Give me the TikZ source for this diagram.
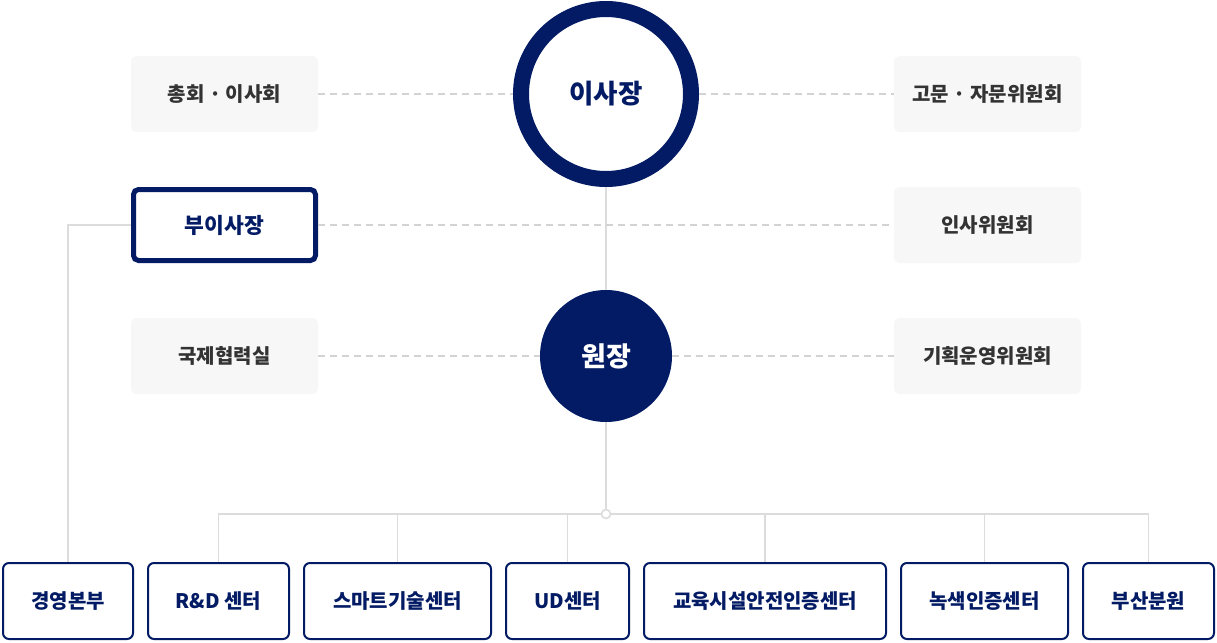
\documentclass[tikz,border=0pt]{standalone}
\usepackage{fontspec}
\setmainfont{Noto Sans CJK KR}
\definecolor{navy}{RGB}{3,27,100}
\definecolor{boxgrey}{HTML}{F7F7F7}
\definecolor{linegrey}{HTML}{DCDCDC}
\definecolor{txtgrey}{HTML}{333333}
\begin{document}
\begin{tikzpicture}[x=1pt,y=-1pt,
  greybox/.style={fill=boxgrey,rounded corners=5pt,minimum width=187pt,minimum height=76pt,inner sep=0pt,font=\fontsize{20}{22}\selectfont\bfseries,text=txtgrey},
  unitbox/.style={draw=navy,line width=2pt,rounded corners=6pt,fill=white,minimum height=76pt,inner sep=0pt,font=\fontsize{20}{22}\selectfont\bfseries,text=navy},
  conn/.style={draw=linegrey,line width=1.6pt},
  dashconn/.style={draw=linegrey!90!gray,line width=1.4pt,dash pattern=on 7pt off 5pt}]
\useasboundingbox (0,0) rectangle (1217,642);
% top nodes
\node[circle,draw=navy,line width=16pt,fill=white,minimum size=170pt,inner sep=0pt,font=\fontsize{26.5}{28}\selectfont\bfseries,text=navy] (chair) at (606,94) {이사장};
\node[circle,fill=navy,minimum size=132pt,inner sep=0pt,font=\fontsize{27}{29}\selectfont\bfseries,text=white] (dir) at (606,356) {원장};
\node[greybox] (gen) at (224.5,94) {총회 · 이사회};
\node[greybox] (adv) at (987.5,94) {고문 · 자문위원회};
\node[greybox] (insa) at (987.5,225) {인사위원회};
\node[greybox] (intl) at (224.5,356) {국제협력실};
\node[greybox] (plan) at (987.5,356) {기획운영위원회};
\node[draw=navy,line width=5pt,rounded corners=5pt,fill=white,minimum width=182pt,minimum height=71pt,inner sep=0pt,font=\fontsize{21.5}{23}\selectfont\bfseries,text=navy] (vp) at (224.5,225) {부이사장};
% bottom units
\node[unitbox,minimum width=130pt] (b1) at (68,601) {경영본부};
\node[unitbox,minimum width=141pt] (b2) at (218.5,601) {R\&D 센터};
\node[unitbox,minimum width=187pt] (b3) at (397.5,601) {스마트기술센터};
\node[unitbox,minimum width=123pt] (b4) at (567.5,601) {UD센터};
\node[unitbox,minimum width=242pt] (b5) at (765,601) {교육시설안전인증센터};
\node[unitbox,minimum width=167pt] (b6) at (984.5,601) {녹색인증센터};
\node[unitbox,minimum width=131pt] (b7) at (1148.5,601) {부산분원};
\node[circle,minimum size=9pt,inner sep=0pt] (jn) at (606,514) {};
% connectors
\draw[conn] (chair.south) -- (dir.north);
\draw[conn] (dir.south) -- (jn.north);
\draw[conn] (b2.north) |- (jn.west);
\draw[conn] (jn.east) -| (b7.north);
\draw[conn] (b3.north) -- (b3.north |- jn.center);
\draw[conn] (b4.north) -- (b4.north |- jn.center);
\draw[conn] (b5.north) -- (b5.north |- jn.center);
\draw[conn] (b6.north) -- (b6.north |- jn.center);
\draw[conn] (vp.west) -| (b1.north);
\draw[dashconn] (gen.east) -- (chair.west);
\draw[dashconn] (chair.east) -- (adv.west);
\draw[dashconn] (vp.east) -- (insa.west);
\draw[dashconn] (intl.east) -- (dir.west);
\draw[dashconn] (dir.east) -- (plan.west);
\draw[conn,fill=white] (jn.center) circle (4.5pt);
\end{tikzpicture}
\end{document}
